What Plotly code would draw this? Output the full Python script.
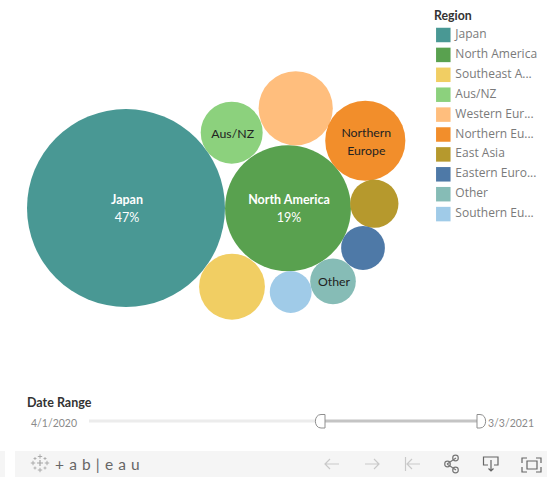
import plotly.graph_objects as go

regions = ["Japan", "North America", "Southeast Asia", "Aus/NZ", "Western Europe",
           "Northern Europe", "East Asia", "Eastern Europe", "Other", "Southern Europe"]
legend_names = ["Japan", "North America", "Southeast A...", "Aus/NZ", "Western Eur...",
                "Northern Eu...", "East Asia", "Eastern Euro...", "Other", "Southern Eu..."]
shares = [47, 19, 5.2, 4.6, 6.6, 7.7, 2.8, 2.3, 2.5, 2.1]
pack_x = [126, 288, 232, 231.7, 295.7, 365.3, 374.3, 363, 333, 290.7]
pack_y = [208, 208.3, 286.7, 132.7, 108.3, 140.7, 203.7, 248, 281.3, 292]
label_line1 = ["<b>Japan</b>", "<b>North America</b>", "", "Aus/NZ", "", "Northern", "", "", "Other", ""]
label_line2 = ["47%", "19%", "", "", "", "Europe", "", "", "", ""]
label_colors = ["white", "white", "#222", "#222", "#222", "#222", "#222", "#222", "#222", "#222"]
label_sizes = [12.5, 12.5, 12.3, 12.3, 12.3, 12.3, 12.3, 12.3, 12.3, 12.3]
colors = ["#499894", "#59A14F", "#F1CE63", "#8CD17D", "#FFBE7D",
          "#F28E2B", "#B6992D", "#4E79A7", "#86BCB6", "#A0CBE8"]
date_start, date_end = "4/1/2020", "3/3/2021"

FONT = "Lato, 'Open Sans', sans-serif"
LEG_FONT = "'Open Sans', Lato, sans-serif"
GRAY = "#8a8a8a"
R_MAX = 99
sizeref = max(shares) / (2 * R_MAX ** 2)

fig = go.Figure()
fig.add_trace(go.Scatter(
    x=pack_x, y=pack_y, mode="markers",
    marker=dict(size=shares, sizemode="area", sizeref=sizeref, color=colors, opacity=1,
                line=dict(width=0)),
    customdata=regions, hovertemplate="%{customdata}: %{marker.size}%<extra></extra>",
    showlegend=False))
# bubble labels: one text trace per line, so the line gap can match
LINE_GAP = 9
fig.add_trace(go.Scatter(
    x=[v + 1 for v in pack_x],
    y=[v + 2 - (LINE_GAP if l2 else 0) for v, l2 in zip(pack_y, label_line2)],
    mode="text", text=label_line1, textposition="middle center",
    textfont=dict(color=label_colors, size=label_sizes, family=FONT),
    hoverinfo="skip", showlegend=False))
fig.add_trace(go.Scatter(
    x=[v + 1 for v in pack_x], y=[v + 2 + LINE_GAP for v in pack_y],
    mode="text", text=label_line2, textposition="middle center",
    textfont=dict(color=label_colors, size=label_sizes, family=FONT),
    hoverinfo="skip", showlegend=False))
# legend, drawn as its own trace so that the swatch spacing matches
fig.add_trace(go.Scatter(
    x=[443.3] * len(legend_names), y=[35 + 19.9 * i for i in range(len(legend_names))],
    mode="markers+text", text=["\u2009" + n for n in legend_names], textposition="middle right",
    textfont=dict(size=12, color="#7a7a7a", family=LEG_FONT),
    marker=dict(symbol="square", size=14.5, color=colors),
    hoverinfo="skip", showlegend=False))

shapes = []
def rect(x0, y0, x1, y1, fill):
    shapes.append(dict(type="rect", x0=x0, y0=y0, x1=x1, y1=y1, fillcolor=fill, line=dict(width=0), layer="below"))
def path(d, color="#9a9a9a", width=1.2, fill=None):
    s = dict(type="path", path=d, line=dict(color=color, width=width), layer="above")
    if fill:
        s["fillcolor"] = fill
    shapes.append(s)
def circ(cx, cy, r):
    k = 0.552 * r
    return (f"M{cx-r},{cy} C{cx-r},{cy-k} {cx-k},{cy-r} {cx},{cy-r} C{cx+k},{cy-r} {cx+r},{cy-k} {cx+r},{cy} "
            f"C{cx+r},{cy+k} {cx+k},{cy+r} {cx},{cy+r} C{cx-k},{cy+r} {cx-r},{cy+k} {cx-r},{cy} Z ")

# toolbar
rect(15, 451, 547, 477, "#f5f5f5")
rect(0, 451, 5, 477, "#f5f5f5")
# slider
rect(89, 419.5, 316, 422.5, "#ececec")
rect(324, 419.5, 477, 422.5, "#c4c4c4")
path("M325,414.5 L325,428 L321,428 C313.5,428 313.5,414.5 321,414.5 Z", "#8f8f8f", 1, "white")
path("M477,414.5 L477,428 L480,428 C487.5,428 487.5,414.5 480,414.5 Z", "#8f8f8f", 1, "white")
# nav icons
light = "#c9c9c9"
path("M339,464 L325,464 M330,459 L325,464 L330,469", light)
path("M365,464 L379,464 M374,459 L379,464 L374,469", light)
path("M405.5,457 L405.5,471 M420,464 L407,464 M412,459 L407,464 L412,469", light)
path("M447,464 L456,458 M447,464 L456,470 " + circ(447.5, 464, 2.8) + circ(455.5, 458, 2.8) + circ(455.5, 470, 2.8), "#777", 1.2, "#f5f5f5")
path("M488,465 L483.5,465 L483.5,457 L498,457 L498,465 L494,465 M491,460 L491,471 M488.5,468.5 L491,471 L493.5,468.5", "#666")
path("M522,463 L522,458 L527,458 M536,458 L541,458 L541,463 M541,467 L541,472 L536,472 M527,472 L522,472 L522,467 "
     "M527,461 L537,461 L537,469 L527,469 Z", "#666")
# logo
for cx, cy, r, w in [(40, 463, 3, 1.2), (40, 456.5, 2.2, 0.9), (40, 470, 2.2, 0.9), (33, 463, 2.2, 0.9), (47, 463, 2.2, 0.9),
                     (35, 458.5, 1.5, 0.8), (45, 458.5, 1.5, 0.8), (35, 468, 1.5, 0.8), (45, 468, 1.5, 0.8)]:
    path(f"M{cx-r},{cy} L{cx+r},{cy} M{cx},{cy-r} L{cx},{cy+r}", "#a5a5a5", w)

SP = "\u2004"
ann = [
    dict(x=431.5, y=15, text="<b>Region</b>", size=12.3, color="#333", anchor="left"),
    dict(x=25, y=402, text="<b>Date Range</b>", size=12.5, color="#333", anchor="left"),
    dict(x=29, y=422.5, text=date_start, size=10.5, color=GRAY, anchor="left"),
    dict(x=486, y=422.5, text=date_end, size=10.5, color=GRAY, anchor="left"),
    dict(x=52.5, y=464, text=SP.join("+ab|eau"), size=15.5, color="#666", anchor="left"),
]

fig.update_layout(
    width=547, height=479, margin=dict(l=0, r=0, t=0, b=0),
    paper_bgcolor="white", plot_bgcolor="white",
    font=dict(family=FONT),
    xaxis=dict(range=[0, 547], visible=False, fixedrange=True),
    yaxis=dict(range=[479, 0], visible=False, fixedrange=True),
    shapes=shapes, showlegend=False,
    annotations=[dict(x=a["x"], y=a["y"], text=a["text"], showarrow=False, xanchor=a["anchor"],
                      yanchor="middle", font=dict(size=a["size"], color=a["color"], family=FONT)) for a in ann],
)
fig.write_html("out.html", post_script="document.body.style.margin='0';document.documentElement.style.overflow='hidden';",
               config={"displayModeBar": False})
